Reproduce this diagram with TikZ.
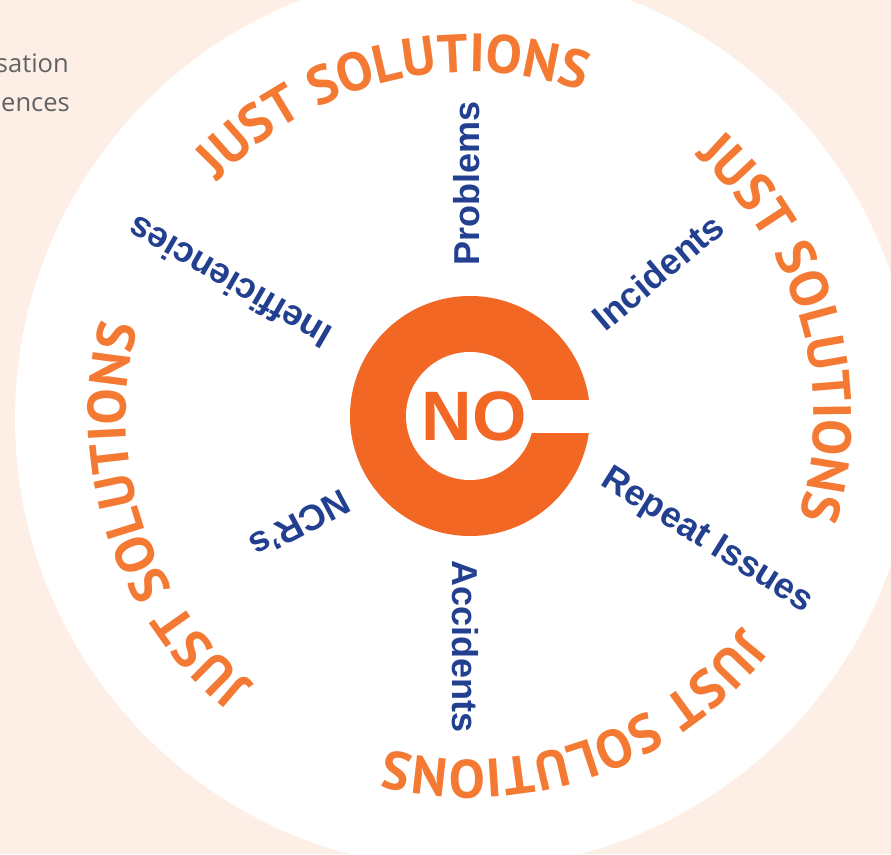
\documentclass[tikz,border=0pt]{standalone}
\usepackage{fontspec}
\usetikzlibrary{decorations.text}
\newfontfamily\spokefont{Liberation Sans}
\newfontfamily\curvefont{PT Sans}
\newfontfamily\sidefont{Open Sans}
\definecolor{peach}{HTML}{FDEFE6}
\definecolor{ringorange}{HTML}{F26724}
\definecolor{jsorange}{HTML}{F47A34}
\definecolor{spokeblue}{HTML}{234090}
\definecolor{graytext}{HTML}{616264}
\newcommand\jsfmt{\curvefont\bfseries\fontsize{54}{60}\selectfont\color{jsorange}}
\begin{document}
\begin{tikzpicture}[x=1pt,y=1pt,
  spoke/.style={anchor=west, inner sep=0pt, text=spokeblue, font=\spokefont\bfseries\fontsize{36}{40}\selectfont},
  side/.style={anchor=base east, inner sep=0pt, text=graytext, font=\sidefont\fontsize{25.5}{30}\selectfont},
  curve/.style={decorate, decoration={text along path, text align=center, text={|\jsfmt|JUST SOLUTIONS}}}]
\useasboundingbox (0,0) rectangle (891,854);
\fill[peach] (0,0) rectangle (891,854);
\begin{scope}
  \clip (0,0) rectangle (891,854);
  \fill[white] (465,435) circle[radius=450];
\end{scope}
\node[side] (t1) at (69,781) {sation};
\node[side] (t2) at (70,742) {ences};
\coordinate (C) at (470,438);
% ring
\fill[ringorange] (C) circle[radius=120];
\fill[white] (C) circle[radius=64];
\fill[white] (470,421) rectangle (596,454);
\node[inner sep=0pt, text=ringorange, font=\spokefont\bfseries\fontsize{70}{70}\selectfont] (no) at (474,438) {NO};
% spokes
\node[spoke, rotate=90]  (problems) at (467,588) {Problems};
\node[spoke, rotate=-90] (accidents) at (465,294) {Accidents};
\node[spoke, rotate=40]  (incidents) at (597,531) {Incidents};
\node[spoke, rotate=-32] (repeat) at (604,377) {Repeat Issues};
\node[spoke, rotate=208] (ncrs) at (347,355) {NCR’s};
\node[spoke, rotate=150] (ineff) at (328,514) {Inefficiencies};
% curved texts
\path[curve] (C) ++(164:344) arc[start angle=164, end angle=44, radius=344];
\path[curve] (C) ++(76:344) arc[start angle=76, end angle=-44, radius=344];
\path[curve] (C) ++(-11:344) arc[start angle=-11, end angle=-131, radius=344];
\path[curve] (C) ++(-102:344) arc[start angle=-102, end angle=-222, radius=344];
\end{tikzpicture}
\end{document}
